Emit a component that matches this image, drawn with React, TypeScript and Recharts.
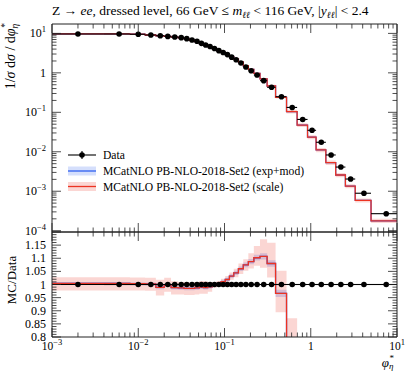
import React from "react";
import {
  Area,
  ComposedChart,
  ErrorBar,
  Line,
  ReferenceLine,
  Scatter,
  XAxis,
  YAxis,
} from "recharts";

// phi*_eta bin edges (first bin starts at 0)
const binEdges = [
  0, 0.004, 0.008, 0.012, 0.016, 0.02, 0.024, 0.029, 0.034, 0.039, 0.045, 0.051,
  0.057, 0.064, 0.072, 0.081, 0.091, 0.102, 0.114, 0.128, 0.145, 0.165, 0.189,
  0.219, 0.258, 0.312, 0.391, 0.524, 0.695, 0.918, 1.153, 1.496, 1.947, 2.522,
  3.277, 5, 10,
];

// measured 1/sigma dsigma/dphi*
const dataValues = [
  9.65, 9.65, 9.5, 9.1, 8.75, 8.4, 8.1, 7.8, 7.35, 6.8, 6.3, 5.6, 5.1, 4.65, 4.15,
  3.65, 3.28, 2.9, 2.5, 2.15, 1.78, 1.41, 1.13, 0.88, 0.634, 0.43, 0.249, 0.133,
  0.066, 0.035, 0.0174, 0.0083, 0.0041, 0.00204, 0.00089, 0.00027,
];

// MC / Data, central value
const mcRatio = [
  1.004, 1.004, 1.003, 1.002, 0.989, 0.999, 0.988, 0.987, 0.985, 0.985, 0.987,
  0.99, 0.988, 0.991, 0.998, 1.003, 1.011, 1.019, 1.032, 1.044, 1.06, 1.075,
  1.087, 1.102, 1.107, 1.08, 0.966, 0.78, 0.72, 0.67, 0.64, 0.64, 0.63, 0.66,
  0.66, 0.66,
];

// scale variation band (ratio units)
const scaleLow = [
  0.977, 0.977, 0.977, 0.976, 0.958, 0.972, 0.962, 0.962, 0.96, 0.96, 0.962,
  0.965, 0.965, 0.972, 0.988, 0.993, 1.0, 1.006, 1.018, 1.028, 1.04, 1.052,
  1.061, 1.071, 1.064, 1.027, 0.894, 0.7, 0.64, 0.59, 0.56, 0.56, 0.55, 0.58,
  0.58, 0.58,
];
const scaleHigh = [
  1.028, 1.028, 1.027, 1.026, 1.018, 1.026, 1.012, 1.01, 1.008, 1.008, 1.01,
  1.013, 1.012, 1.01, 1.008, 1.013, 1.022, 1.032, 1.046, 1.06, 1.08, 1.096,
  1.119, 1.147, 1.172, 1.159, 1.052, 0.871, 0.8, 0.75, 0.72, 0.72, 0.71, 0.74,
  0.74, 0.74,
];

// exp+mod band (ratio units)
const expLow = [
  0.998, 0.998, 0.997, 0.996, 0.982, 0.993, 0.981, 0.98, 0.978, 0.978, 0.98,
  0.983, 0.981, 0.985, 0.992, 0.997, 1.004, 1.012, 1.025, 1.036, 1.051, 1.066,
  1.077, 1.091, 1.095, 1.068, 0.952, 0.76, 0.7, 0.65, 0.62, 0.62, 0.61, 0.64,
  0.64, 0.64,
];
const expHigh = [
  1.01, 1.01, 1.009, 1.008, 0.996, 1.005, 0.995, 0.994, 0.992, 0.992, 0.994,
  0.997, 0.995, 0.997, 1.004, 1.009, 1.018, 1.026, 1.039, 1.052, 1.069, 1.084,
  1.097, 1.113, 1.119, 1.092, 0.98, 0.8, 0.74, 0.69, 0.66, 0.66, 0.65, 0.68,
  0.68, 0.68,
];

const xMajorTicks = [0.001, 0.01, 0.1, 1, 10];
const minorSteps = [2, 3, 4, 5, 6, 7, 8, 9];
const mainYMajorTicks = [1e-4, 1e-3, 1e-2, 1e-1, 1, 10];
const ratioYMajorTicks = [0.8, 0.85, 0.9, 0.95, 1, 1.05, 1.1, 1.15, 1.2];
const ratioYLabels = ["0.8", "0.85", "0.9", "0.95", "1", "1.05", "1.1", "1.15", ""];

const X_DOMAIN: [number, number] = [0.001, 10];
const MAIN_Y_DOMAIN: [number, number] = [9.27e-5, 17.3];
const RATIO_Y_DOMAIN: [number, number] = [0.8, 1.2];

const RED = "#ec3322";
const BLUE = "#2f5ff0";
const FRAME = "#222";
const FONT = "'Liberation Serif', serif";

const W = 411;
const H = 371;
// axes take 1px each, so margins are one short of the plot edges
const MAIN_MARGIN = { top: 23, right: 13, bottom: 138, left: 51 };
const RATIO_MARGIN = { top: 231, right: 13, bottom: 33, left: 51 };

const withMinors = (majors: number[], lo: number, hi: number) => {
  const all = [...majors];
  majors.forEach((m) => minorSteps.forEach((k) => all.push(m * k)));
  return all.filter((v) => v >= lo && v <= hi).sort((a, b) => a - b);
};
const xTicks = withMinors(xMajorTicks, X_DOMAIN[0], X_DOMAIN[1]);
const mainYTicks = withMinors(mainYMajorTicks, MAIN_Y_DOMAIN[0], MAIN_Y_DOMAIN[1]);
const ratioYTicks: number[] = [];
for (let i = 0; i <= 40; i++) ratioYTicks.push((80 + i) / 100);

// step rows: one point per lower bin edge, closing point at last upper edge
const nBins = dataValues.length;
const lowEdge = (i: number) => Math.max(binEdges[i], X_DOMAIN[0]);
const stepIndex = [...dataValues.map((_, i) => i), nBins - 1];
const stepX = (j: number) => (j < nBins ? lowEdge(j) : binEdges[nBins]);

const mainSteps = stepIndex.map((i, j) => ({
  x: stepX(j),
  mc: dataValues[i] * mcRatio[i],
  scale: [dataValues[i] * scaleLow[i], dataValues[i] * scaleHigh[i]],
  exp: [dataValues[i] * expLow[i], dataValues[i] * expHigh[i]],
}));
const ratioSteps = stepIndex.map((i, j) => ({
  x: stepX(j),
  mc: mcRatio[i],
  scale: [scaleLow[i], scaleHigh[i]],
  exp: [expLow[i], expHigh[i]],
}));

const points = dataValues.map((v, i) => {
  const c = (binEdges[i] + binEdges[i + 1]) / 2;
  return { x: c, y: v, xErr: [c - lowEdge(i), binEdges[i + 1] - c] };
});

type Side = "left" | "right" | "top" | "bottom";
const GAP = 6;

const sup = (base: string, exp: string) => (
  <>
    <tspan>{base}</tspan>
    <tspan dy={-5} fontSize={8.5}>
      {exp}
    </tspan>
  </>
);

const logLabel = (v: number) => {
  if (v === 1) return "1";
  const e = Math.round(Math.log10(v));
  return sup("10", e < 0 ? `\u2212${-e}` : `${e}`);
};

function makeTick(
  side: Side,
  majors: number[],
  label?: (v: number) => React.ReactNode,
) {
  return (props: any) => {
    const { x, y, payload } = props;
    const v = payload.value as number;
    const major = majors.some((m) => Math.abs(m - v) < 1e-9);
    const len = major ? 9 : 4.5;
    let ax = x;
    let ay = y;
    let bx = x;
    let by = y;
    if (side === "bottom") {
      ay = y - GAP;
      by = ay - len;
    } else if (side === "top") {
      ay = y + GAP;
      by = ay + len;
    } else if (side === "left") {
      ax = x + GAP;
      bx = ax + len;
    } else {
      ax = x - GAP;
      bx = ax - len;
    }
    return (
      <g>
        <line x1={ax} y1={ay} x2={bx} y2={by} stroke={FRAME} strokeWidth={0.8} />
        {label && major && (
          <text
            x={x}
            y={side === "left" ? y + 4 : y + 7}
            textAnchor={side === "left" ? "end" : "middle"}
            fontSize={side === "left" ? 12 : 11.5}
            fontFamily={FONT}
            fill="#000"
          >
            {label(v)}
          </text>
        )}
      </g>
    );
  };
}

const ratioLabel = (v: number) => {
  const idx = ratioYMajorTicks.findIndex((m) => Math.abs(m - v) < 1e-9);
  return ratioYLabels[idx];
};

const dot = (p: any) => <circle cx={p.cx} cy={p.cy} r={2.8} fill="#000" />;

function Frame({
  yDomain,
  yScale,
  yTicks,
  yMajors,
  yLabel,
  xLabel,
}: {
  yDomain: [number, number];
  yScale: "log" | "linear";
  yTicks: number[];
  yMajors: number[];
  yLabel: (v: number) => React.ReactNode;
  xLabel?: (v: number) => React.ReactNode;
}) {
  const common = {
    interval: 0 as const,
    tickSize: 0,
    tickMargin: GAP,
    tickLine: false,
    allowDataOverflow: true,
    axisLine: { stroke: FRAME },
  };
  return [
    <XAxis
      key="xb"
      xAxisId="b"
      orientation="bottom"
      dataKey="x"
      type="number"
      scale="log"
      domain={X_DOMAIN}
      ticks={xTicks}
      height={1}
      tick={makeTick("bottom", xMajorTicks, xLabel)}
      {...common}
    />,
    <XAxis
      key="xt"
      xAxisId="t"
      orientation="top"
      dataKey="x"
      type="number"
      scale="log"
      domain={X_DOMAIN}
      ticks={xTicks}
      height={1}
      tick={makeTick("top", xMajorTicks)}
      {...common}
    />,
    <YAxis
      key="yl"
      yAxisId="l"
      orientation="left"
      type="number"
      scale={yScale}
      domain={yDomain}
      ticks={yTicks}
      width={1}
      tick={makeTick("left", yMajors, yLabel)}
      {...common}
    />,
    <YAxis
      key="yr"
      yAxisId="r"
      orientation="right"
      type="number"
      scale={yScale}
      domain={yDomain}
      ticks={yTicks}
      width={1}
      tick={makeTick("right", yMajors)}
      {...common}
    />,
  ];
}

function Series({ steps, pts }: { steps: any[]; pts: any[] }) {
  return [
    <Area
      key="eb"
      data={steps}
      xAxisId="b"
      yAxisId="l"
      dataKey="exp"
      type="stepAfter"
      stroke="none"
      fill={BLUE}
      fillOpacity={0.22}
      isAnimationActive={false}
    />,
    <Area
      key="sb"
      data={steps}
      xAxisId="b"
      yAxisId="l"
      dataKey="scale"
      type="stepAfter"
      stroke="none"
      fill={RED}
      fillOpacity={0.2}
      isAnimationActive={false}
    />,
    <Line
      key="el"
      data={steps}
      xAxisId="b"
      yAxisId="l"
      dataKey="mc"
      type="stepAfter"
      stroke={BLUE}
      strokeWidth={1.3}
      dot={false}
      isAnimationActive={false}
    />,
    <Line
      key="sl"
      data={steps}
      xAxisId="b"
      yAxisId="l"
      dataKey="mc"
      type="stepAfter"
      stroke={RED}
      strokeWidth={1.3}
      dot={false}
      isAnimationActive={false}
    />,
    <Scatter
      key="d"
      data={pts}
      xAxisId="b"
      yAxisId="l"
      dataKey="y"
      shape={dot}
      isAnimationActive={false}
    >
      <ErrorBar dataKey="xErr" direction="x" width={0} stroke="#000" strokeWidth={1.1} isAnimationActive={false} />
    </Scatter>,
  ];
}

function Overlay() {
  const legendRows = [
    { y: 155, label: "Data" },
    { y: 171, label: "MCatNLO PB-NLO-2018-Set2 (exp+mod)", color: BLUE },
    { y: 186.5, label: "MCatNLO PB-NLO-2018-Set2 (scale)", color: RED },
  ];
  return (
    <svg
      width={W}
      height={H}
      style={{ position: "absolute", left: 0, top: 0, pointerEvents: "none" }}
      fontFamily={FONT}
    >
      <text x={52} y={15} fontSize={13.5}>
        <tspan>Z → </tspan>
        <tspan fontStyle="italic">ee</tspan>
        <tspan>, dressed level, 66 GeV ≤ </tspan>
        <tspan fontStyle="italic">m</tspan>
        <tspan fontStyle="italic" fontSize={9.5} dy={3}>ℓℓ</tspan>
        <tspan dy={-3}> &lt; 116 GeV, |</tspan>
        <tspan fontStyle="italic">y</tspan>
        <tspan fontStyle="italic" fontSize={9.5} dy={3}>ℓℓ</tspan>
        <tspan dy={-3}>| &lt; 2.4</tspan>
      </text>
      <text transform="translate(15,23) rotate(-90)" textAnchor="end" fontSize={14}>
        <tspan>1/</tspan>
        <tspan fontStyle="italic">σ</tspan>
        <tspan> d</tspan>
        <tspan fontStyle="italic">σ</tspan>
        <tspan> / d</tspan>
        <tspan fontStyle="italic">φ</tspan>
        <tspan fontStyle="italic" fontSize={9.5} dy={3}>η</tspan>
        <tspan fontSize={9.5} dy={-10} dx={-4}>*</tspan>
      </text>
      <text transform="translate(16,280) rotate(-90)" textAnchor="middle" fontSize={13}>
        MC/Data
      </text>
      <text x={394} y={367} textAnchor="end" fontSize={13}>
        <tspan fontStyle="italic">φ</tspan>
        <tspan fontStyle="italic" fontSize={9} dy={2}>η</tspan>
        <tspan fontSize={9} dy={-8} dx={-4}>*</tspan>
      </text>
      {legendRows.map((r) => (
        <g key={r.label}>
          {r.color ? (
            <>
              <rect x={68} y={r.y - 4.5} width={28} height={9} fill={r.color} fillOpacity={0.2} />
              <line x1={68} x2={96} y1={r.y} y2={r.y} stroke={r.color} strokeWidth={1.3} />
            </>
          ) : (
            <>
              <line x1={68} x2={96} y1={r.y} y2={r.y} stroke="#000" strokeWidth={1.1} />
              <line x1={82} x2={82} y1={r.y - 4} y2={r.y + 4} stroke="#000" strokeWidth={1.1} />
              <circle cx={82} cy={r.y} r={2.8} fill="#000" />
            </>
          )}
          <text x={103} y={r.y + 4} fontSize={11.6}>
            {r.label}
          </text>
        </g>
      ))}
    </svg>
  );
}

export default function App() {
  return (
    <div style={{ position: "absolute", left: 0, top: 0, width: W, height: H, background: "#fff" }}>
      <div style={{ position: "absolute", left: 0, top: 0 }}>
        <ComposedChart width={W} height={H} margin={MAIN_MARGIN}>
          {Frame({
            yDomain: MAIN_Y_DOMAIN,
            yScale: "log",
            yTicks: mainYTicks,
            yMajors: mainYMajorTicks,
            yLabel: logLabel,
          })}
          {Series({ steps: mainSteps, pts: points })}
        </ComposedChart>
      </div>
      <div style={{ position: "absolute", left: 0, top: 0 }}>
        <ComposedChart width={W} height={H} margin={RATIO_MARGIN}>
          {Frame({
            yDomain: RATIO_Y_DOMAIN,
            yScale: "linear",
            yTicks: ratioYTicks,
            yMajors: ratioYMajorTicks,
            yLabel: ratioLabel,
            xLabel: logLabel,
          })}
          {Series({ steps: ratioSteps, pts: points.map((p) => ({ ...p, y: 1 })) })}
          <ReferenceLine xAxisId="b" yAxisId="l" y={1} stroke="#000" strokeWidth={1.2} />
        </ComposedChart>
      </div>
      <Overlay />
    </div>
  );
}
